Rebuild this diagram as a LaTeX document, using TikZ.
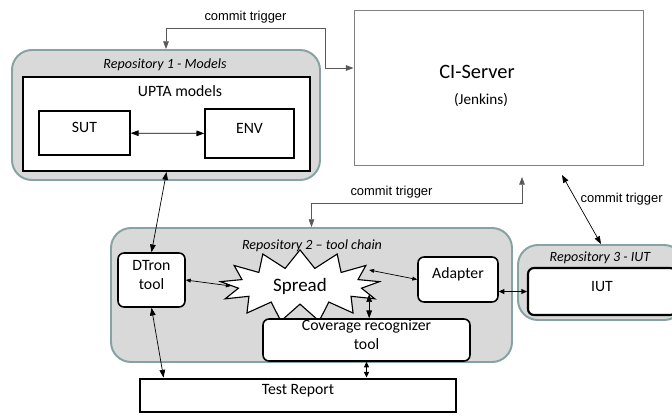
\documentclass[tikz,border=0pt]{standalone}
\usepackage{fontspec}
\setmainfont{Carlito}
\newfontfamily\arialfont{Liberation Sans}
\usetikzlibrary{fit,shapes.symbols,arrows.meta}
\definecolor{repofill}{RGB}{217,217,217}
\definecolor{repoline}{RGB}{135,162,162}

\begin{document}
\begin{tikzpicture}[x=0.025cm,y=-0.025cm,
    repo/.style={draw=repoline, fill=repofill, line width=1.4pt, rounded corners=0.5cm, inner sep=0pt},
    box/.style={draw, fill=white, line width=1.1pt, inner sep=0pt, align=center, font=\fontsize{11.2}{13}\selectfont},
    rbox/.style={box, rounded corners=0.15cm},
    repotitle/.style={font=\fontsize{10}{11}\selectfont\itshape},
    trig/.style={font=\arialfont\fontsize{9.2}{11}\selectfont},
    link/.style={{Triangle[length=5.5pt,width=4pt]}-{Triangle[length=5.5pt,width=4pt]}, line width=0.5pt},
    smalllink/.style={{Triangle[length=3.5pt,width=2.8pt]}-{Triangle[length=3.5pt,width=2.8pt]}, line width=0.5pt},
    thicklink/.style={{Triangle[length=4pt,width=3.5pt]}-{Triangle[length=4pt,width=3.5pt]}, line width=1.2pt},
    trigline/.style={link, draw=black!65}]
    \useasboundingbox (0,0) rectangle (672,416);
    \clip (0,0) rectangle (672,416);

    \node[repo, fit={(12,50) (320,180)}] (repo1) {};
    \node[repotitle] at (165,65) (repo1title) {Repository 1 - Models};
    \node[box, line width=1.5pt, fit={(23,77) (310,171)}] (upta) {};
    \node[font=\fontsize{11.2}{13}\selectfont] at (180,91) (uptatitle) {UPTA models};
    \node[box, fit={(39,111) (130,155)}] (sut) {SUT};
    \node[box, fit={(205,109) (294,158)}] (env) {ENV};

    \node[draw=black!50, line width=0.7pt, inner sep=0pt, fit={(354,10) (643,165)}] (ci) {};
    \node[font=\fontsize{14.5}{16}\selectfont] at (477,72) (citext) {CI-Server};
    \node[font=\fontsize{10.8}{12.5}\selectfont] at (481,100) (jenkins) {(Jenkins)};

    \node[repo, fit={(111,228) (512,362)}] (repo2) {};
    \node[repotitle] at (312,246) (repo2title) {Repository 2 \textendash\ tool chain};
    \node[rbox, fit={(118,253) (185,307)}] (dtron) {DTron\\tool};
    \node[starburst, random starburst=0, starburst points=13, starburst point height=0.45cm,
          draw, fill=white, line width=0.8pt, minimum width=4cm, minimum height=1.45cm,
          font=\fontsize{13.5}{15}\selectfont] at (300,286) (spread) {Spread};
    \node[rbox, fit={(418,257) (498,302)}] (adapter) {Adapter};
    \node[rbox, fit={(263,319) (470,361)}] (cov) {Coverage recognizer\\tool};
    \node[box, line width=2pt, fit={(140,379) (456,412)}] (report) {Test Report};

    \node[repo, fit={(518,245) (684,320)}] (repo3) {};
    \node[repotitle] at (600,258) (repo3title) {Repository 3 - IUT};
    \node[rbox, line width=1.5pt, fit={(528,268) (676,315)}] (iut) {IUT};

    \coordinate (bendA) at (325,28);
    \coordinate (bendB) at (325,68);
    \coordinate (bendC) at (522,203);
    \coordinate (ciin) at (522,177);
    \coordinate (ciout) at (562,175);

    \draw[trigline] (repo1.north) |- node[pos=0.75, above, trig, text=black] (trig1) {commit trigger} (bendA) -- (bendB) -- (bendB -| ci.west);
    \draw[trigline] (repo2.north) |- node[pos=0.69, above, trig, text=black] (trig2) {commit trigger} (bendC) -- (ciin);
    \draw[link] (ciout) -- (repo3.north) node[pos=0.35, right, trig] (trig3) {commit trigger};

    \draw[link] (sut) -- (env);
    \draw[link] (upta.south) -- (dtron.north);
    \draw[smalllink] (dtron.east) -- (spread.west);
    \draw[smalllink] ([yshift=0.4cm]spread.east) -- (adapter.west);
    \draw[link] (cov.north -| spread.east) -- ++(0,-24);
    \draw[thicklink] (cov.south) -- (cov.south |- report.north);
    \draw[link] (dtron.south) -- ([xshift=0.625cm]report.north west);
    \draw[thicklink] (iut.west -| adapter.east) -- (iut.west);
\end{tikzpicture}
\end{document}
